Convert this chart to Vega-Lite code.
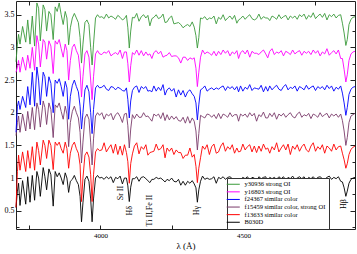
{
"$schema": "https://vega.github.io/schema/vega-lite/v6.json",
"width": 339, "height": 228,
"autosize": {"type": "none"},
"padding": {"left": 16, "top": 1, "right": 2, "bottom": 25},
"background": "white",
"config": {
  "view": {"stroke": "#222222", "strokeWidth": 1},
  "font": "Liberation Serif",
  "axis": {"labelFont": "Liberation Serif", "titleFont": "Liberation Serif", "domain": false, "grid": false, "tickColor": "#222222", "labelColor": "#000000", "titleColor": "#000000"}
},
"datasets": {
"spec": [
{"w":3705,"k":0.55,"r":0.55,"p":1.65,"b":1.70,"m":2.62,"g":2.78},
{"w":3710,"k":0.80,"r":1.10,"p":1.85,"b":2.10,"m":2.70,"g":3.05},
{"w":3714,"k":0.92,"r":1.35,"p":1.95,"b":2.18,"m":2.80,"g":3.20},
{"w":3719,"k":0.58,"r":1.12,"p":1.70,"b":2.05,"m":2.62,"g":3.05},
{"w":3728,"k":0.96,"r":1.40,"p":1.98,"b":2.25,"m":2.85,"g":3.32},
{"w":3739,"k":0.60,"r":1.10,"p":1.72,"b":2.08,"m":2.65,"g":3.08},
{"w":3746,"k":1.02,"r":1.42,"p":2.02,"b":2.40,"m":2.88,"g":3.42},
{"w":3754,"k":0.63,"r":1.15,"p":1.75,"b":2.12,"m":2.68,"g":3.05},
{"w":3762,"k":1.04,"r":1.48,"p":2.08,"b":2.62,"m":3.00,"g":3.48},
{"w":3770,"k":0.66,"r":1.12,"p":1.74,"b":2.10,"m":2.65,"g":3.02},
{"w":3778,"k":1.10,"r":1.55,"p":2.15,"b":2.70,"m":3.18,"g":3.68},
{"w":3784,"k":1.00,"r":1.42,"p":2.05,"b":2.50,"m":3.05,"g":3.60},
{"w":3790,"k":0.72,"r":1.20,"p":1.78,"b":2.12,"m":2.70,"g":3.10},
{"w":3800,"k":1.16,"r":1.58,"p":2.18,"b":2.62,"m":3.12,"g":3.65},
{"w":3806,"k":1.02,"r":1.50,"p":2.08,"b":2.55,"m":3.08,"g":3.58},
{"w":3812,"k":0.82,"r":1.30,"p":1.82,"b":2.25,"m":2.82,"g":3.25},
{"w":3820,"k":1.14,"r":1.58,"p":2.15,"b":2.55,"m":3.10,"g":3.55},
{"w":3827,"k":1.05,"r":1.50,"p":2.05,"b":2.45,"m":3.02,"g":3.50},
{"w":3835,"k":0.57,"r":1.13,"p":1.62,"b":2.00,"m":2.60,"g":3.12},
{"w":3842,"k":1.10,"r":1.55,"p":2.12,"b":2.50,"m":3.10,"g":3.62},
{"w":3849,"k":1.02,"r":1.50,"p":2.08,"b":2.45,"m":3.05,"g":3.55},
{"w":3856,"k":1.08,"r":1.55,"p":2.15,"b":2.52,"m":3.12,"g":3.68},
{"w":3863,"k":1.00,"r":1.45,"p":2.02,"b":2.40,"m":2.98,"g":3.50},
{"w":3870,"k":0.90,"r":1.38,"p":1.90,"b":2.25,"m":2.85,"g":3.35},
{"w":3877,"k":1.08,"r":1.55,"p":2.10,"b":2.48,"m":3.05,"g":3.55},
{"w":3883,"k":1.00,"r":1.45,"p":1.98,"b":2.38,"m":2.95,"g":3.45},
{"w":3889,"k":0.78,"r":1.15,"p":1.48,"b":1.90,"m":2.50,"g":3.04},
{"w":3895,"k":0.95,"r":1.38,"p":1.85,"b":2.25,"m":2.80,"g":3.30},
{"w":3902,"k":0.98,"r":1.50,"p":2.02,"b":2.42,"m":3.00,"g":3.45},
{"w":3909,"k":1.04,"r":1.55,"p":2.10,"b":2.50,"m":3.05,"g":3.52},
{"w":3916,"k":0.96,"r":1.45,"p":2.00,"b":2.40,"m":2.95,"g":3.45},
{"w":3923,"k":0.90,"r":1.38,"p":1.92,"b":2.32,"m":2.88,"g":3.38},
{"w":3929,"k":0.72,"r":1.20,"p":1.70,"b":2.10,"m":2.65,"g":3.15},
{"w":3934,"k":0.33,"r":0.64,"p":1.23,"b":1.75,"m":2.24,"g":2.76},
{"w":3939,"k":0.62,"r":1.00,"p":1.55,"b":2.00,"m":2.55,"g":3.05},
{"w":3946,"k":0.98,"r":1.35,"p":1.92,"b":2.35,"m":2.90,"g":3.38},
{"w":3953,"k":1.03,"r":1.40,"p":1.98,"b":2.42,"m":2.95,"g":3.42},
{"w":3960,"k":0.95,"r":1.32,"p":1.90,"b":2.32,"m":2.85,"g":3.35},
{"w":3966,"k":0.68,"r":1.05,"p":1.55,"b":2.00,"m":2.50,"g":3.00},
{"w":3971,"k":0.33,"r":0.64,"p":1.20,"b":1.68,"m":2.20,"g":2.73},
{"w":3976,"k":0.68,"r":1.05,"p":1.60,"b":2.05,"m":2.55,"g":3.05},
{"w":3983,"k":1.00,"r":1.40,"p":1.95,"b":2.38,"m":2.90,"g":3.45},
{"w":3990,"k":1.04,"r":1.45,"p":2.00,"b":2.42,"m":2.95,"g":3.50},
{"w":3997,"k":1.00,"r":1.42,"p":1.96,"b":2.38,"m":2.90,"g":3.46},
{"w":4005,"k":1.01,"r":1.43,"p":2.00,"b":2.39,"m":2.89,"g":3.47},
{"w":4013,"k":0.98,"r":1.54,"p":1.90,"b":2.42,"m":2.93,"g":3.44},
{"w":4021,"k":1.02,"r":1.40,"p":1.98,"b":2.36,"m":2.91,"g":3.51},
{"w":4029,"k":0.99,"r":1.46,"p":1.95,"b":2.34,"m":2.95,"g":3.45},
{"w":4037,"k":1.02,"r":1.51,"p":1.99,"b":2.40,"m":2.87,"g":3.48},
{"w":4045,"k":0.93,"r":1.38,"p":1.89,"b":2.39,"m":2.90,"g":3.46},
{"w":4053,"k":1.01,"r":1.52,"p":1.97,"b":2.35,"m":2.92,"g":3.43},
{"w":4061,"k":0.99,"r":1.36,"p":2.00,"b":2.39,"m":2.89,"g":3.49},
{"w":4069,"k":1.03,"r":1.49,"p":1.94,"b":2.37,"m":2.96,"g":3.46},
{"w":4077,"k":0.91,"r":1.35,"p":1.85,"b":2.34,"m":2.83,"g":3.42},
{"w":4084,"k":1.00,"r":1.51,"p":1.98,"b":2.33,"m":2.93,"g":3.44},
{"w":4091,"k":1.00,"r":1.39,"p":1.99,"b":2.38,"m":2.93,"g":3.49},
{"w":4096,"k":0.88,"r":1.25,"p":1.80,"b":2.20,"m":2.75,"g":3.30},
{"w":4101,"k":0.64,"r":0.92,"p":1.46,"b":1.92,"m":2.47,"g":2.99},
{"w":4106,"k":0.86,"r":1.22,"p":1.75,"b":2.18,"m":2.72,"g":3.25},
{"w":4112,"k":0.99,"r":1.37,"p":1.97,"b":2.34,"m":2.92,"g":3.46},
{"w":4119,"k":0.99,"r":1.49,"p":1.91,"b":2.39,"m":2.89,"g":3.45},
{"w":4127,"k":1.02,"r":1.54,"p":1.98,"b":2.41,"m":2.96,"g":3.52},
{"w":4135,"k":0.95,"r":1.37,"p":1.93,"b":2.31,"m":2.88,"g":3.40},
{"w":4143,"k":1.01,"r":1.48,"p":1.93,"b":2.40,"m":2.95,"g":3.47},
{"w":4151,"k":1.02,"r":1.44,"p":2.00,"b":2.37,"m":2.87,"g":3.50},
{"w":4159,"k":0.99,"r":1.51,"p":1.94,"b":2.40,"m":2.93,"g":3.45},
{"w":4166,"k":0.96,"r":1.35,"p":1.95,"b":2.33,"m":2.88,"g":3.49},
{"w":4173,"k":0.93,"r":1.39,"p":1.91,"b":2.34,"m":2.90,"g":3.33},
{"w":4180,"k":0.98,"r":1.40,"p":1.87,"b":2.32,"m":2.83,"g":3.44},
{"w":4187,"k":0.98,"r":1.41,"p":1.98,"b":2.41,"m":2.92,"g":3.46},
{"w":4195,"k":1.01,"r":1.52,"p":1.95,"b":2.33,"m":2.95,"g":3.50},
{"w":4203,"k":0.99,"r":1.43,"p":1.98,"b":2.39,"m":2.90,"g":3.44},
{"w":4211,"k":1.00,"r":1.45,"p":1.91,"b":2.34,"m":2.94,"g":3.46},
{"w":4219,"k":0.97,"r":1.51,"p":2.00,"b":2.43,"m":2.85,"g":3.51},
{"w":4226,"k":0.94,"r":1.31,"p":1.88,"b":2.27,"m":2.87,"g":3.38},
{"w":4233,"k":0.98,"r":1.46,"p":1.97,"b":2.35,"m":2.88,"g":3.39},
{"w":4241,"k":0.96,"r":1.41,"p":1.89,"b":2.38,"m":2.92,"g":3.45},
{"w":4249,"k":1.00,"r":1.46,"p":1.95,"b":2.33,"m":2.86,"g":3.48},
{"w":4257,"k":0.95,"r":1.36,"p":1.90,"b":2.37,"m":2.87,"g":3.36},
{"w":4265,"k":0.94,"r":1.43,"p":1.94,"b":2.24,"m":2.87,"g":3.37},
{"w":4273,"k":0.98,"r":1.39,"p":1.88,"b":2.35,"m":2.84,"g":3.38},
{"w":4281,"k":0.89,"r":1.39,"p":1.87,"b":2.27,"m":2.76,"g":3.35},
{"w":4289,"k":0.95,"r":1.30,"p":1.93,"b":2.34,"m":2.85,"g":3.30},
{"w":4297,"k":0.89,"r":1.35,"p":1.84,"b":2.24,"m":2.85,"g":3.33},
{"w":4305,"k":0.95,"r":1.35,"p":1.94,"b":2.32,"m":2.80,"g":3.35},
{"w":4313,"k":0.92,"r":1.46,"p":1.84,"b":2.35,"m":2.84,"g":3.32},
{"w":4321,"k":0.96,"r":1.32,"p":1.92,"b":2.29,"m":2.82,"g":3.39},
{"w":4328,"k":0.91,"r":1.36,"p":1.87,"b":2.25,"m":2.84,"g":3.31},
{"w":4334,"k":0.85,"r":1.18,"p":1.72,"b":2.15,"m":2.68,"g":3.18},
{"w":4339,"k":0.63,"r":0.93,"p":1.43,"b":1.89,"m":2.40,"g":2.99},
{"w":4344,"k":0.82,"r":1.15,"p":1.68,"b":2.12,"m":2.62,"g":3.15},
{"w":4350,"k":0.95,"r":1.31,"p":1.96,"b":2.35,"m":2.85,"g":3.45},
{"w":4357,"k":1.03,"r":1.49,"p":1.94,"b":2.37,"m":2.96,"g":3.44},
{"w":4365,"k":0.98,"r":1.44,"p":1.92,"b":2.41,"m":2.90,"g":3.47},
{"w":4373,"k":1.00,"r":1.51,"p":1.98,"b":2.33,"m":2.93,"g":3.42},
{"w":4381,"k":0.98,"r":1.36,"p":1.97,"b":2.36,"m":2.91,"g":3.45},
{"w":4389,"k":0.99,"r":1.48,"p":1.93,"b":2.38,"m":2.88,"g":3.44},
{"w":4397,"k":1.02,"r":1.52,"p":1.97,"b":2.35,"m":2.94,"g":3.48},
{"w":4405,"k":0.92,"r":1.38,"p":1.91,"b":2.38,"m":2.87,"g":3.36},
{"w":4413,"k":1.01,"r":1.40,"p":1.99,"b":2.36,"m":2.94,"g":3.46},
{"w":4421,"k":0.99,"r":1.49,"p":1.91,"b":2.39,"m":2.89,"g":3.43},
{"w":4429,"k":1.02,"r":1.54,"p":1.98,"b":2.41,"m":2.96,"g":3.50},
{"w":4437,"k":0.98,"r":1.41,"p":1.96,"b":2.34,"m":2.91,"g":3.41},
{"w":4445,"k":1.01,"r":1.48,"p":1.93,"b":2.40,"m":2.95,"g":3.45},
{"w":4453,"k":1.02,"r":1.44,"p":2.00,"b":2.37,"m":2.87,"g":3.48},
{"w":4461,"k":0.99,"r":1.51,"p":1.94,"b":2.40,"m":2.93,"g":3.43},
{"w":4469,"k":0.98,"r":1.38,"p":1.97,"b":2.35,"m":2.90,"g":3.49},
{"w":4477,"k":0.99,"r":1.46,"p":1.97,"b":2.40,"m":2.95,"g":3.37},
{"w":4483,"k":0.98,"r":1.40,"p":1.87,"b":2.32,"m":2.83,"g":3.42},
{"w":4490,"k":0.98,"r":1.41,"p":1.98,"b":2.41,"m":2.92,"g":3.44},
{"w":4498,"k":1.01,"r":1.52,"p":1.95,"b":2.33,"m":2.95,"g":3.48},
{"w":4506,"k":0.99,"r":1.43,"p":1.98,"b":2.39,"m":2.90,"g":3.43},
{"w":4514,"k":1.02,"r":1.48,"p":1.93,"b":2.36,"m":2.96,"g":3.47},
{"w":4522,"k":0.97,"r":1.51,"p":2.00,"b":2.43,"m":2.85,"g":3.50},
{"w":4530,"k":1.01,"r":1.40,"p":1.95,"b":2.34,"m":2.94,"g":3.44},
{"w":4538,"k":1.00,"r":1.49,"p":1.99,"b":2.38,"m":2.91,"g":3.42},
{"w":4546,"k":0.94,"r":1.39,"p":1.87,"b":2.37,"m":2.91,"g":3.44},
{"w":4554,"k":1.02,"r":1.49,"p":1.97,"b":2.36,"m":2.89,"g":3.51},
{"w":4562,"k":0.99,"r":1.41,"p":1.94,"b":2.42,"m":2.93,"g":3.43},
{"w":4570,"k":1.01,"r":1.52,"p":2.01,"b":2.32,"m":2.96,"g":3.47},
{"w":4578,"k":1.02,"r":1.44,"p":1.92,"b":2.40,"m":2.90,"g":3.45},
{"w":4585,"k":0.94,"r":1.46,"p":1.92,"b":2.33,"m":2.84,"g":3.45},
{"w":4592,"k":1.01,"r":1.38,"p":1.99,"b":2.41,"m":2.94,"g":3.41},
{"w":4600,"k":0.99,"r":1.48,"p":1.94,"b":2.35,"m":2.98,"g":3.48},
{"w":4608,"k":1.01,"r":1.43,"p":2.00,"b":2.39,"m":2.89,"g":3.46},
{"w":4616,"k":0.98,"r":1.54,"p":1.90,"b":2.42,"m":2.93,"g":3.43},
{"w":4624,"k":1.02,"r":1.40,"p":1.98,"b":2.36,"m":2.91,"g":3.50},
{"w":4632,"k":0.99,"r":1.46,"p":1.95,"b":2.34,"m":2.95,"g":3.44},
{"w":4640,"k":1.02,"r":1.51,"p":1.99,"b":2.40,"m":2.87,"g":3.47},
{"w":4648,"k":0.97,"r":1.43,"p":1.93,"b":2.43,"m":2.94,"g":3.49},
{"w":4656,"k":1.01,"r":1.52,"p":1.97,"b":2.35,"m":2.92,"g":3.42},
{"w":4664,"k":0.99,"r":1.36,"p":2.00,"b":2.39,"m":2.89,"g":3.48},
{"w":4672,"k":1.03,"r":1.49,"p":1.94,"b":2.37,"m":2.96,"g":3.45},
{"w":4680,"k":0.98,"r":1.44,"p":1.92,"b":2.41,"m":2.90,"g":3.48},
{"w":4688,"k":1.00,"r":1.51,"p":1.98,"b":2.33,"m":2.93,"g":3.43},
{"w":4696,"k":1.02,"r":1.41,"p":2.01,"b":2.40,"m":2.95,"g":3.50},
{"w":4704,"k":0.99,"r":1.48,"p":1.93,"b":2.38,"m":2.88,"g":3.47},
{"w":4712,"k":1.02,"r":1.52,"p":1.97,"b":2.35,"m":2.94,"g":3.51},
{"w":4720,"k":0.96,"r":1.43,"p":1.95,"b":2.42,"m":2.91,"g":3.43},
{"w":4728,"k":1.01,"r":1.40,"p":1.99,"b":2.36,"m":2.94,"g":3.49},
{"w":4736,"k":0.99,"r":1.49,"p":1.91,"b":2.39,"m":2.89,"g":3.46},
{"w":4744,"k":1.02,"r":1.54,"p":1.98,"b":2.41,"m":2.96,"g":3.53},
{"w":4752,"k":0.98,"r":1.41,"p":1.96,"b":2.34,"m":2.91,"g":3.44},
{"w":4760,"k":1.01,"r":1.48,"p":1.93,"b":2.40,"m":2.95,"g":3.48},
{"w":4768,"k":1.02,"r":1.44,"p":2.00,"b":2.37,"m":2.87,"g":3.51},
{"w":4776,"k":0.99,"r":1.51,"p":1.94,"b":2.40,"m":2.93,"g":3.46},
{"w":4784,"k":0.98,"r":1.38,"p":1.97,"b":2.35,"m":2.90,"g":3.52},
{"w":4792,"k":1.01,"r":1.49,"p":1.99,"b":2.42,"m":2.98,"g":3.42},
{"w":4800,"k":1.03,"r":1.46,"p":1.92,"b":2.37,"m":2.88,"g":3.50},
{"w":4808,"k":0.98,"r":1.41,"p":1.98,"b":2.41,"m":2.92,"g":3.47},
{"w":4816,"k":1.01,"r":1.52,"p":1.95,"b":2.33,"m":2.95,"g":3.51},
{"w":4824,"k":0.99,"r":1.43,"p":1.98,"b":2.39,"m":2.90,"g":3.45},
{"w":4832,"k":1.02,"r":1.48,"p":1.93,"b":2.36,"m":2.96,"g":3.49},
{"w":4840,"k":0.95,"r":1.49,"p":1.98,"b":2.41,"m":2.83,"g":3.50},
{"w":4846,"k":0.94,"r":1.38,"p":1.88,"b":2.30,"m":2.83,"g":3.37},
{"w":4852,"k":0.85,"r":1.28,"p":1.72,"b":2.15,"m":2.66,"g":3.22},
{"w":4858,"k":0.72,"r":1.15,"p":1.50,"b":1.96,"m":2.47,"g":3.03},
{"w":4863,"k":0.80,"r":1.22,"p":1.62,"b":2.08,"m":2.58,"g":3.12},
{"w":4869,"k":0.92,"r":1.36,"p":1.85,"b":2.28,"m":2.80,"g":3.35},
{"w":4876,"k":0.98,"r":1.44,"p":1.95,"b":2.36,"m":2.90,"g":3.43},
{"w":4883,"k":1.00,"r":1.47,"p":1.97,"b":2.39,"m":2.93,"g":3.46},
{"w":4890,"k":1.01,"r":1.49,"p":1.99,"b":2.40,"m":2.94,"g":3.47}
],
"notes": [
{"w":4071,"y":0.77,"t":"Sr II"},
{"w":4102,"y":0.5,"t":"Hδ"},
{"w":4173,"y":0.5,"t":"Ti II,Fe II"},
{"w":4338,"y":0.5,"t":"Hγ"},
{"w":4853,"y":0.6,"t":"Hβ"}
]
},
"layer": [
{
"data": {"name": "spec"},
"transform": [{"fold": ["k","r","p","b","m","g"], "as": ["s","f"]}],
"mark": {"type": "line", "strokeWidth": 0.9},
"encoding": {
  "x": {"field": "w", "type": "quantitative", "scale": {"domain": [3705, 4890], "nice": false, "zero": false},
        "axis": {"orient": "bottom", "values": [3750,4000,4250,4500,4750], "tickSize": -4, "labelExpr": "datum.value % 500 === 0 ? format(datum.value, 'd') : ''", "labelFontSize": 7, "labelPadding": 6, "title": "λ  (Å)", "titleFontSize": 9, "titleFontWeight": "normal", "titlePadding": 3}},
  "y": {"field": "f", "type": "quantitative", "scale": {"domain": [0.22, 3.71], "nice": false, "zero": false},
        "axis": {"orient": "left", "values": [0.25,0.5,0.75,1,1.25,1.5,1.75,2,2.25,2.5,2.75,3,3.25,3.5], "tickSize": {"condition": {"test": "datum.value % 0.5 === 0", "value": -5}, "value": -3}, "labelExpr": "datum.value % 0.5 === 0 ? format(datum.value, '~g') : ''", "labelFontSize": 8, "labelPadding": 7, "title": null}},
  "color": {"field": "s", "type": "nominal",
        "scale": {"domain": ["g","m","b","p","r","k"], "range": ["#3a9a3a","#ff00ff","#0000ff","#7a3b6b","#ff0000","#000000"]},
        "legend": {"orient": "none", "legendX": 211, "legendY": 177, "title": null, "fillColor": "white", "strokeColor": "#333333", "padding": 3, "symbolType": "M-3,0H3", "symbolSize": 19, "symbolStrokeWidth": 1, "labelFontSize": 6.5, "labelFont": "Liberation Serif", "labelColor": "#000000", "rowPadding": 0.6, "labelOffset": 8,
                   "labelExpr": "{'g':'y30936 strong OI','m':'y16803 strong OI','b':'f24367 similar color','p':'f15459 similar color, strong OI','r':'f13633 similar color','k':'B030D'}[datum.label]"}}
}
},
{
"data": {"name": "notes"},
"mark": {"type": "text", "angle": 270, "font": "Liberation Serif", "fontSize": 8, "align": "center", "baseline": "middle", "color": "#000000"},
"encoding": {
  "x": {"field": "w", "type": "quantitative", "scale": {"domain": [3705, 4890], "nice": false, "zero": false},
        "axis": {"orient": "top", "values": [3750,4000,4250,4500,4750], "tickSize": -4, "labels": false, "title": null}},
  "y": {"field": "y", "type": "quantitative", "scale": {"domain": [0.22, 3.71], "nice": false, "zero": false},
        "axis": {"orient": "right", "values": [0.25,0.5,0.75,1,1.25,1.5,1.75,2,2.25,2.5,2.75,3,3.25,3.5], "tickSize": {"condition": {"test": "datum.value % 0.5 === 0", "value": -5}, "value": -3}, "labels": false, "title": null}},
  "text": {"field": "t"}
}
}
],
"resolve": {"axis": {"x": "independent", "y": "independent"}}
}
